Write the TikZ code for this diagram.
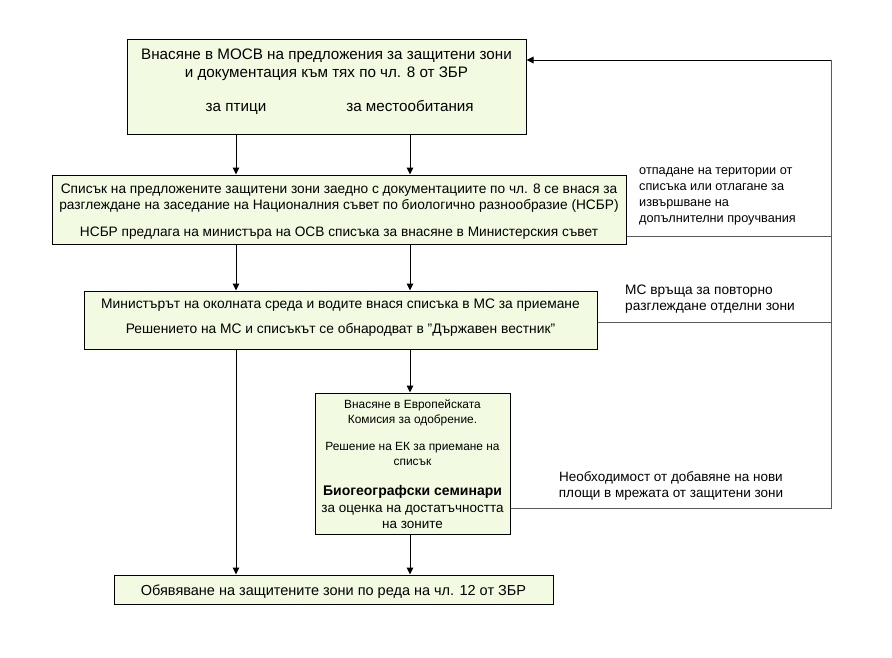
\documentclass[tikz,border=0pt]{standalone}
\usepackage{fontspec}
\setmainfont{Liberation Sans}
\usetikzlibrary{arrows.meta}
\definecolor{boxfill}{RGB}{242,250,226}
\definecolor{fbline}{RGB}{90,90,90}
\begin{document}
\begin{tikzpicture}[x=1pt,y=-1pt,
  box/.style={draw, fill=boxfill, line width=1pt, inner sep=0pt},
  txt/.style={inner sep=0pt, align=center, anchor=base},
  fa/.style={font=\fontsize{15.2}{17}\selectfont},
  fb/.style={font=\fontsize{13.7}{16}\selectfont},
  fc/.style={font=\fontsize{13.8}{16}\selectfont},
  fd/.style={font=\fontsize{13.5}{16}\selectfont},
  fe/.style={font=\fontsize{14.5}{16}\selectfont},
  small/.style={inner sep=0pt, align=center, anchor=base, font=\fontsize{11.9}{15}\selectfont},
  lbl/.style={inner sep=0pt, align=left},
  arr/.style={line width=1pt, -{Triangle[length=7pt,width=6.5pt]}},
  fbl/.style={line width=1pt, draw=fbline}]
\useasboundingbox (0,0) rectangle (892,657);
% boxes
\node[box, minimum width=399pt, minimum height=95pt] (b1) at (326.5,86.5) {};
\node[box, minimum width=574pt, minimum height=69pt] (b2) at (339,209.5) {};
\node[box, minimum width=513pt, minimum height=58pt] (b3) at (340.5,320) {};
\node[box, minimum width=195pt, minimum height=141pt] (b4) at (412.5,463.5) {};
\node[box, minimum width=439pt, minimum height=29pt] (b5) at (333.5,589.5) {};
% texts
\node[txt, fa] (t1a) at (326.5,59) {Внасяне в МОСВ на предложения за защитени зони};
\node[txt, fa] (t1b) at (326.5,77) {и документация към тях по чл. 8 от ЗБР};
\node[txt, fa] (t1c) at (236,111) {за птици};
\node[txt, fa] (t1d) at (410,111) {за местообитания};
\node[txt, fb] (t2a) at (339,193) {Списък на предложените защитени зони заедно с документациите по чл. 8 се внася за};
\node[txt, fb] (t2b) at (339,209) {разглеждане на заседание на Националния съвет по биологично разнообразие (НСБР)};
\node[txt, fb] (t2c) at (339,236) {НСБР предлага на министъра на ОСВ списъка за внасяне в Министерския съвет};
\node[txt, fc] (t3a) at (340.5,308) {Министърът на околната среда и водите внася списъка в МС за приемане};
\node[txt, fc] (t3b) at (340.5,333) {Решението на МС и списъкът се обнародват в "Държавен вестник"};
\node[small] (t4a) at (412.5,408) {Внасяне в Европейската};
\node[small] (t4b) at (412.5,423) {Комисия за одобрение.};
\node[small] (t4c) at (412.5,450) {Решение на ЕК за приемане на};
\node[small] (t4d) at (412.5,465) {списък};
\node[txt, font=\fontsize{14}{16}\selectfont\bfseries] (t4e) at (412.5,495) {Биогеографски семинари};
\node[txt, fd] (t4f) at (412.5,512) {за оценка на достатъчността};
\node[txt, fd] (t4g) at (412.5,528) {на зоните};
\node[txt, fe] (t5) at (333.5,595) {Обявяване на защитените зони по реда на чл. 12 от ЗБР};
% feedback labels
\node[lbl, anchor=north west, font=\fontsize{12.7}{16.2}\selectfont] (l1) at (639,167) {отпадане на територии от\\списъка или отлагане за\\извършване на\\допълнителни проучвания};
\node[lbl, anchor=north west, font=\fontsize{13.7}{16}\selectfont] (l2) at (625,285) {МС връща за повторно\\разглеждане отделни зони};
\node[lbl, align=center, font=\fontsize{13.5}{16}\selectfont] (l3) at (671,486) {Необходимост от добавяне на нови\\площи в мрежата от защитени зони};
% column coordinates
\coordinate (cA) at (236,0);
\coordinate (cB) at (410,0);
\coordinate (cR) at (831,0);
\coordinate (y2) at (0,236);
\coordinate (y3) at (0,322);
\coordinate (y4) at (0,508);
\coordinate (y1) at (0,60);
% main arrows
\draw[arr] (b1.south -| cA) -- (b2.north -| cA);
\draw[arr] (b1.south -| cB) -- (b2.north -| cB);
\draw[arr] (b2.south -| cA) -- (b3.north -| cA);
\draw[arr] (b2.south -| cB) -- (b3.north -| cB);
\draw[arr] (b3.south -| cA) -- (b5.north -| cA);
\draw[arr] (b3.south -| cB) -- (b4.north -| cB);
\draw[arr] (b4.south -| cB) -- (b5.north -| cB);
% feedback
\draw[fbl] (b2.east |- y2) -- (cR |- y2);
\draw[fbl] (b3.east |- y3) -- (cR |- y3);
\draw[fbl] (b4.east |- y4) -- (cR |- y4) -- (cR |- y1);
\draw[arr] (cR |- y1) -- (b1.east |- y1);
\end{tikzpicture}
\end{document}
